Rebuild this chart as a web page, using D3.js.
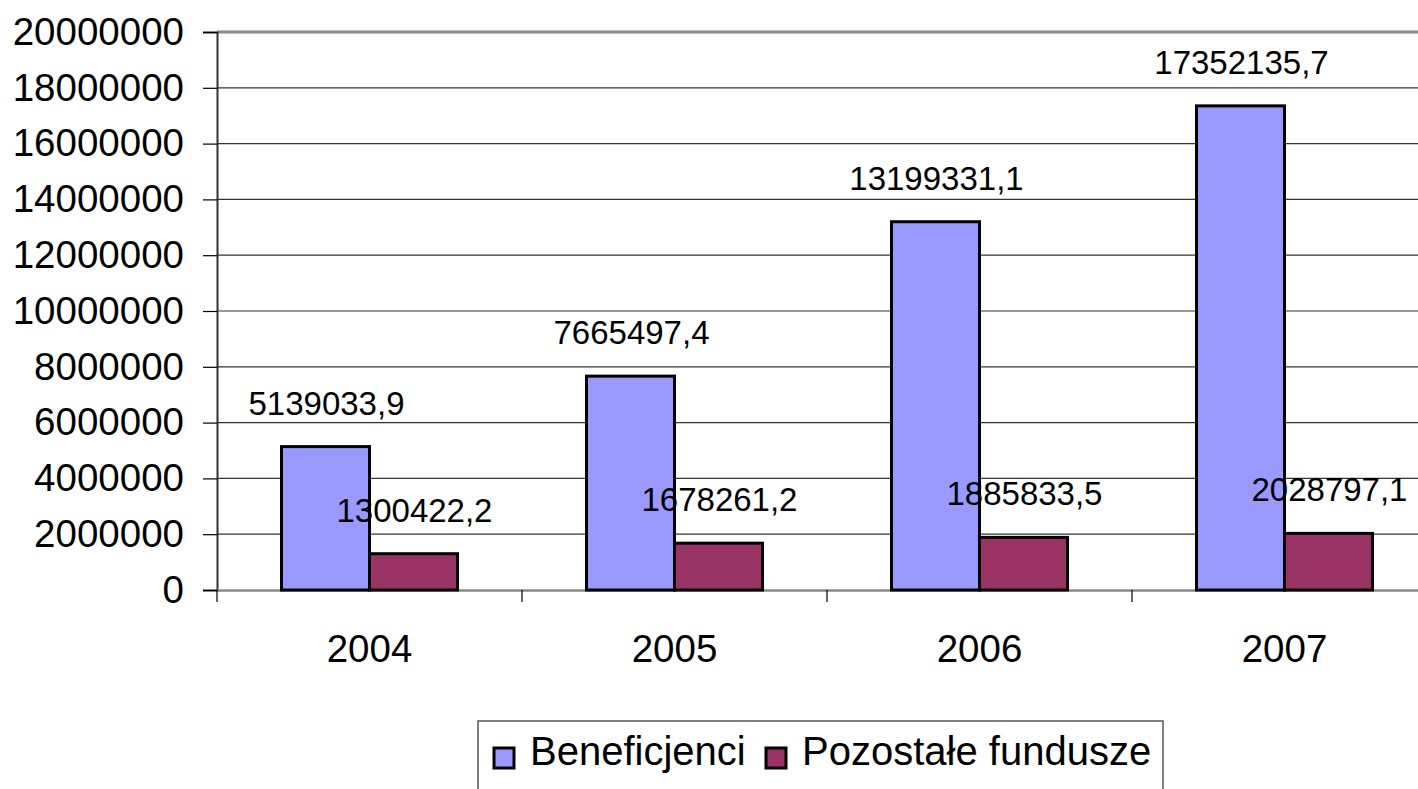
<!DOCTYPE html>
<html lang="pl">
<head>
  <meta charset="UTF-8">
  <title>Beneficjenci i pozostałe fundusze</title>
  <script src="https://d3js.org/d3.v7.min.js"></script>
  <style>
    body, html { margin: 0; padding: 0; background: #fff; overflow: hidden; }
    svg { display: block; font-family: "Liberation Sans", Arial, sans-serif; }
  </style>
</head>
<body>
  <svg id="chart" width="1418" height="789"></svg>
  <script>
    // Data
    const years = ['2004', '2005', '2006', '2007'];
    const seriesNames = ['Beneficjenci', 'Pozostałe fundusze'];
    const beneficjenci = [5139033.9, 7665497.4, 13199331.1, 17352135.7];
    const pozostale = [1300422.2, 1678261.2, 1885833.5, 2028797.1];
    const yTicks = [0, 2000000, 4000000, 6000000, 8000000, 10000000, 12000000, 14000000, 16000000, 18000000, 20000000];
    const colors = ['#9999ff', '#993366'];

    const svg = d3.select('#chart');
    const axisFont = 38.5, labelFont = 33, legendFont = 40;

    // Plot area (right side runs past the window, as in the original)
    const plotLeft = 217, plotRight = 1437, plotTop = 32, plotBottom = 590;

    const y = d3.scaleLinear().domain([0, 20000000]).range([plotBottom, plotTop]);
    const x0 = d3.scaleBand().domain(years).range([plotLeft, plotRight]);
    const x1 = d3.scaleBand().domain(seriesNames).range([0, x0.bandwidth()])
      .paddingInner(0).paddingOuter(0.733);

    // Gridlines
    svg.append('g')
      .selectAll('line')
      .data(yTicks.filter(d => d > 0 && d < 20000000))
      .enter().append('line')
      .attr('x1', plotLeft).attr('x2', plotRight)
      .attr('y1', d => y(d)).attr('y2', d => y(d))
      .attr('stroke', '#333').attr('stroke-width', 1.2);

    // Plot area top border
    svg.append('line')
      .attr('x1', plotLeft).attr('x2', plotRight)
      .attr('y1', plotTop).attr('y2', plotTop)
      .attr('stroke', '#888').attr('stroke-width', 3);

    // Y axis
    const yAxis = d3.axisLeft(y).tickValues(yTicks).tickSize(14).tickPadding(19)
      .tickFormat(d3.format('d'));
    const gy = svg.append('g').attr('transform', `translate(${plotLeft},0)`).call(yAxis);
    gy.select('.domain').attr('stroke', '#333').attr('stroke-width', 2);
    gy.selectAll('.tick line').attr('stroke', '#000').attr('stroke-width', 1.2);
    gy.selectAll('.tick text').attr('font-size', axisFont).attr('fill', '#000')
      .attr('font-family', '"Liberation Sans", Arial, sans-serif');

    // X axis
    const xAxis = d3.axisBottom(x0).tickSize(0).tickPadding(45);
    const gx = svg.append('g').attr('transform', `translate(0,${plotBottom})`).call(xAxis);
    gx.select('.domain').attr('stroke', '#888').attr('stroke-width', 2.5);
    gx.selectAll('.tick text').attr('font-size', axisFont).attr('fill', '#000')
      .attr('font-family', '"Liberation Sans", Arial, sans-serif');

    // Category separators
    svg.append('g')
      .selectAll('line')
      .data(years)
      .enter().append('line')
      .attr('x1', d => x0(d)).attr('x2', d => x0(d))
      .attr('y1', plotBottom).attr('y2', plotBottom + 12)
      .attr('stroke', '#000').attr('stroke-width', 1.2);

    // Bars
    const rows = years.map((yr, i) => ({
      year: yr,
      values: [
        { name: seriesNames[0], value: beneficjenci[i], color: colors[0] },
        { name: seriesNames[1], value: pozostale[i], color: colors[1] }
      ]
    }));

    const groups = svg.append('g')
      .selectAll('g')
      .data(rows)
      .enter().append('g')
      .attr('transform', d => `translate(${x0(d.year)},0)`);

    groups.selectAll('rect')
      .data(d => d.values)
      .enter().append('rect')
      .attr('x', d => x1(d.name))
      .attr('y', d => y(d.value))
      .attr('width', x1.bandwidth())
      .attr('height', d => plotBottom - y(d.value))
      .attr('fill', d => d.color)
      .attr('stroke', '#000')
      .attr('stroke-width', 3);

    // Value labels
    const fmt = v => v.toFixed(1).replace('.', ',');
    groups.selectAll('text.value')
      .data(d => d.values)
      .enter().append('text')
      .attr('class', 'value')
      .attr('x', d => x1(d.name) + x1.bandwidth() / 2 + 1)
      .attr('y', d => y(d.value) - 32)
      .attr('text-anchor', 'middle')
      .attr('font-size', labelFont)
      .attr('fill', '#000')
      .text(d => fmt(d.value));

    // Legend
    const legend = svg.append('g').attr('transform', 'translate(478,721)');
    legend.append('rect')
      .attr('x', 0).attr('y', 0).attr('width', 685).attr('height', 90)
      .attr('fill', '#fff').attr('stroke', '#555').attr('stroke-width', 1.5);

    const legendItems = [
      { name: seriesNames[0], color: colors[0], x: 16 },
      { name: seriesNames[1], color: colors[1], x: 288 }
    ];
    legendItems.forEach(item => {
      legend.append('rect')
        .attr('x', item.x).attr('y', 27).attr('width', 20).attr('height', 20)
        .attr('fill', item.color).attr('stroke', '#000').attr('stroke-width', 3);
      legend.append('text')
        .attr('x', item.x + 36).attr('y', 44)
        .attr('font-size', legendFont)
        .attr('fill', '#000')
        .text(item.name);
    });
  </script>
</body>
</html>
